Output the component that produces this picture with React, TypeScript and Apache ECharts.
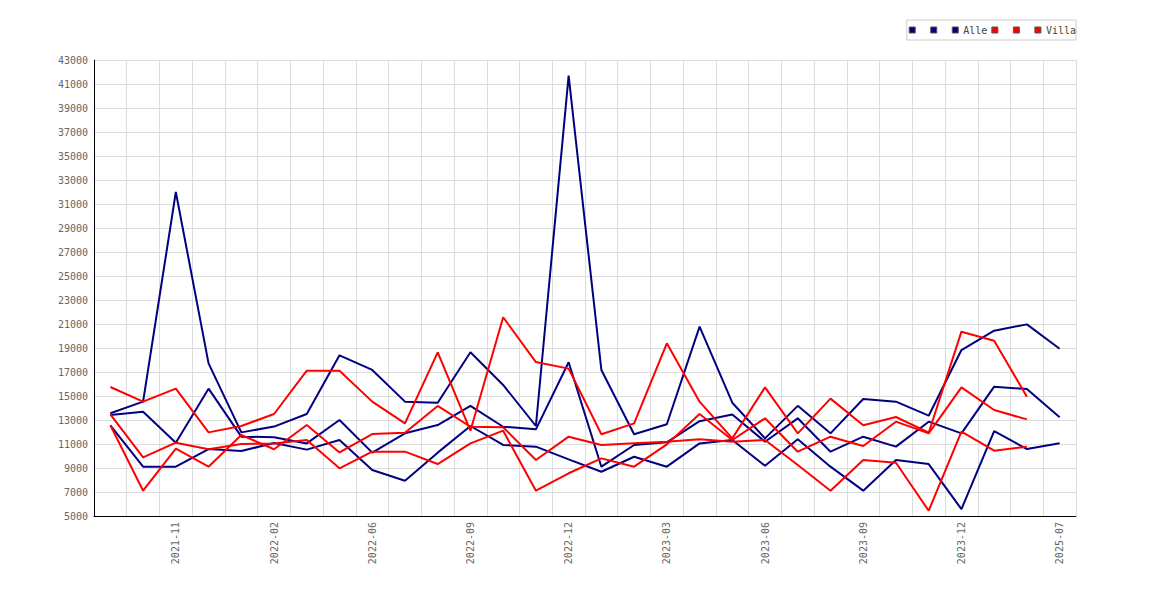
import React, { useEffect, useRef } from "react";
import * as echarts from "echarts";

const categories = [
  "2021-09", "2021-10", "2021-11", "2021-12", "2022-01", "2022-02", "2022-03", "2022-05",
  "2022-06", "2022-07", "2022-08", "2022-09", "2022-10", "2022-11", "2022-12", "2023-01",
  "2023-02", "2023-03", "2023-04", "2023-05", "2023-06", "2023-07", "2023-08", "2023-09",
  "2023-10", "2023-11", "2023-12", "2024-01", "2024-02", "2025-07",
];

const alleA = [13560, 14530, 32000, 17720, 11970, 12450, 13500, 18390, 17170, 14530, 14440, 18640, 15920, 12500, 41700, 17170, 11810, 12650, 20780, 14440, 11470, 14180, 11890, 14750, 14530, 13360, 18830, 20440, 20970, 18940];
const alleB = [13420, 13690, 11110, 15610, 11610, 11570, 11050, 13000, 10280, 11890, 12580, 14170, 12440, 12220, 17810, 9110, 10920, 11140, 12900, 13450, 11190, 13140, 10360, 11610, 10780, 12860, 11890, 15780, 15580, 13220];
const alleC = [12560, 9110, 9110, 10580, 10420, 11080, 10530, 11330, 8830, 7940, 10280, 12500, 10920, 10780, 9720, 8690, 9940, 9110, 11050, 11330, 9190, 11390, 9110, 7110, 9670, 9330, 5580, 12080, 10580, 11060];

const villaA = [15750, 14530, 15610, 11970, 12500, 13500, 17110, 17110, 14530, 12720, 18640, 12110, 21560, 17830, 17280, 11810, 12720, 19390, 14530, 11470, 15720, 11890, 14780, 12560, 13250, 11940, 20360, 19610, 14940, null];
const villaB = [13470, 9890, 11110, 10560, 11000, 11050, 11330, 8970, 10360, 10360, 9330, 11050, 12110, 7110, 8560, 9800, 9110, 10970, 13500, 11330, 13140, 10360, 11610, 10830, 12860, 11890, 15720, 13830, 13050, null];
const villaC = [12560, 7110, 10610, 9110, 11750, 10560, 12580, 10300, 11830, 11940, 14170, 12440, 12390, 9670, 11610, 10920, 11055, 11190, 11390, 11190, 11330, 9250, 7110, 9670, 9440, 5440, 12030, 10440, 10780, null];

const seriesNames = ["a1", "a2", "Alle", "v1", "v2", "Villa"];
const legendLabels: Record<string, string> = { a1: " ", a2: " ", Alle: "Alle", v1: " ", v2: " ", Villa: "Villa" };

const NAVY = "#000080";
const RED = "#ff0000";
const FONT = "DejaVu Sans Mono";

export default function App() {
  const ref = useRef<HTMLDivElement>(null);
  useEffect(() => {
    document.body.style.margin = "0";
    const chart = echarts.init(ref.current!, null, { renderer: "svg" });
    const mk = (name: string, data: (number | null)[], color: string) => ({
      name,
      type: "line",
      data,
      symbol: "none",
      showSymbol: false,
      connectNulls: false,
      lineStyle: { color, width: 2 },
      itemStyle: { color },
      emphasis: { disabled: true },
    });
    chart.setOption({
      animation: false,
      backgroundColor: "#ffffff",
      grid: { left: 94, right: 94, top: 60, bottom: 84 },
      legend: {
        right: 94,
        top: 20,
        icon: "rect",
        itemWidth: 6,
        itemHeight: 6,
        itemGap: 4,
        padding: [4, 0, 4, 2],
        borderColor: "#cccccc",
        borderWidth: 1,
        itemStyle: { borderColor: "#555555", borderWidth: 1 },
        data: seriesNames,
        formatter: (n: string) => legendLabels[n],
        textStyle: { fontFamily: FONT, fontSize: 10, color: "#444444", lineHeight: 12 },
      },
      xAxis: {
        type: "category",
        data: categories,
        boundaryGap: true,
        axisLine: { show: true, lineStyle: { color: "#000000", width: 1 } },
        axisTick: { show: false, interval: 0 },
        axisLabel: {
          interval: (i: number) => i % 3 === 2,
          rotate: 90,
          margin: 6,
          fontFamily: FONT,
          fontSize: 10,
          color: "#666666",
        },
        splitLine: { show: true, interval: 0, lineStyle: { color: "#dddddd", width: 1 } },
      },
      yAxis: {
        type: "value",
        min: 5000,
        max: 43000,
        interval: 2000,
        axisLine: { show: true, lineStyle: { color: "#000000", width: 1 } },
        axisTick: { show: false },
        axisLabel: {
          margin: 6,
          fontFamily: FONT,
          fontSize: 10,
          color: "#666666",
          formatter: (v: number) => String(v),
        },
        splitLine: { show: true, lineStyle: { color: "#dddddd", width: 1 } },
      },
      series: [
        mk(seriesNames[0], alleA, NAVY),
        mk(seriesNames[1], alleB, NAVY),
        mk(seriesNames[2], alleC, NAVY),
        mk(seriesNames[3], villaA, RED),
        mk(seriesNames[4], villaB, RED),
        mk(seriesNames[5], villaC, RED),
      ],
    });
    return () => chart.dispose();
  }, []);
  return <div ref={ref} style={{ width: 1170, height: 600 }} />;
}
